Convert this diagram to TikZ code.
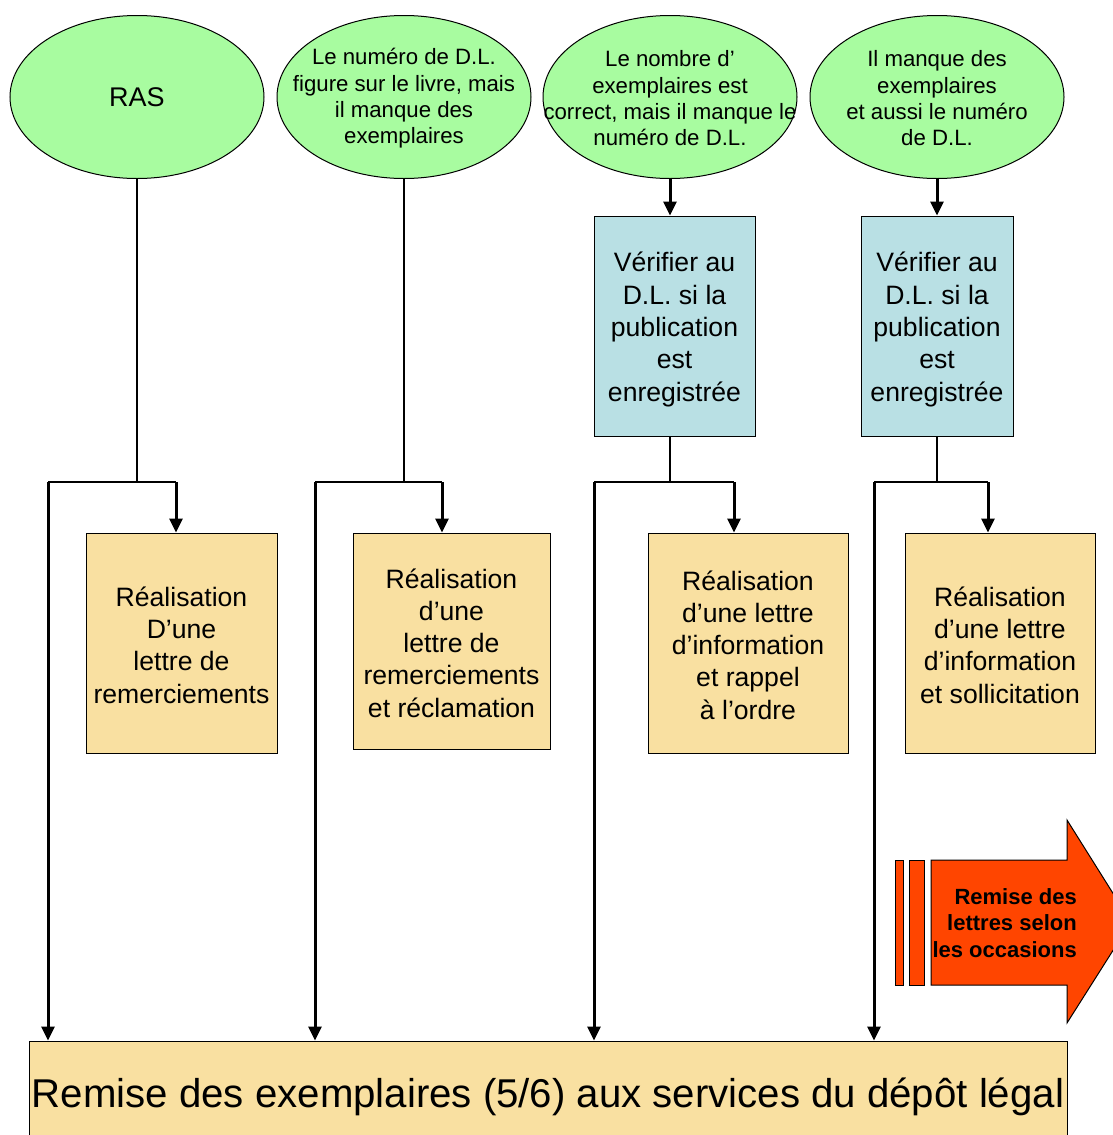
\documentclass[tikz,border=0pt]{standalone}
\usepackage{fontspec}
\setmainfont{Liberation Sans}
\usetikzlibrary{shapes.geometric,arrows.meta}
\definecolor{leafgreen}{RGB}{168,252,160}
\definecolor{paleblue}{RGB}{185,224,228}
\definecolor{sand}{RGB}{249,224,161}
\definecolor{flame}{RGB}{255,69,0}
\tikzset{
  oval/.style={ellipse,draw=black,line width=1pt,fill=leafgreen,minimum width=254pt,minimum height=163pt,inner sep=0pt},
  ovaltext/.style={align=center,inner sep=0pt,font=\fontsize{22.2}{26.3}\selectfont},
  boxtext/.style={align=center,inner sep=0pt,font=\fontsize{26.6}{32.3}\selectfont},
  checkbox/.style={rectangle,draw=black,line width=1pt,fill=paleblue,inner sep=0pt},
  letterbox/.style={rectangle,draw=black,line width=1pt,fill=sand,inner sep=0pt},
  thin/.style={line width=1.3pt},
  link/.style={line width=2pt},
  flow/.style={line width=3pt,-{Triangle[length=14pt,width=13pt]}},
}
\begin{document}
\begin{tikzpicture}[x=1pt,y=-1pt]
\useasboundingbox (0,0) rectangle (1113,1135);
\fill[white] (0,0) rectangle (1113,1135);

% the four cases
\node[oval] (e1) at (137,97) {};
\node[oval] (e2) at (404,97) {};
\node[oval] (e3) at (670,97) {};
\node[oval] (e4) at (937,97) {};
\node[ovaltext,font=\fontsize{27}{30}\selectfont] (t1) at (e1.center) {RAS};
\node[ovaltext] (t2) at ([yshift=-1.5pt]e2.center) {Le numéro de D.L.\\figure sur le livre, mais\\il manque des\\exemplaires};
\node[ovaltext] (t3) at ([yshift=-1.5pt]e3.center) {Le nombre d’\\exemplaires est\\correct, mais il manque le\\numéro de D.L.};
\node[ovaltext] (t4) at ([yshift=-1.5pt]e4.center) {Il manque des\\exemplaires\\et aussi le numéro\\de D.L.};

% checks with the D.L.
\node[checkbox,minimum width=161pt,minimum height=220pt] (v3) at (674.5,326) {};
\node[checkbox,minimum width=152pt,minimum height=220pt] (v4) at (937,326) {};
\node[boxtext] (vt3) at ([yshift=-3.5pt]v3.center) {Vérifier au\\D.L. si la\\publication\\est\\enregistrée};
\node[boxtext] (vt4) at ([yshift=-3.5pt]v4.center) {Vérifier au\\D.L. si la\\publication\\est\\enregistrée};

% letters
\node[letterbox,minimum width=191pt,minimum height=220pt] (l1) at (181.5,643) {};
\node[letterbox,minimum width=197pt,minimum height=216pt] (l2) at (451.5,641) {};
\node[letterbox,minimum width=200pt,minimum height=220pt] (l3) at (748,643) {};
\node[letterbox,minimum width=190pt,minimum height=220pt] (l4) at (1000,643) {};
\node[boxtext] (lt1) at ([yshift=-2pt]l1.center) {Réalisation\\D’une\\lettre de\\remerciements};
\node[boxtext] (lt2) at ([yshift=-2pt]l2.center) {Réalisation\\d’une\\lettre de\\remerciements\\et réclamation};
\node[boxtext] (lt3) at ([yshift=-2pt]l3.center) {Réalisation\\d’une lettre\\d’information\\et rappel\\à l’ordre};
\node[boxtext] (lt4) at ([yshift=-2pt]l4.center) {Réalisation\\d’une lettre\\d’information\\et sollicitation};

% final step
\node[letterbox,minimum width=1038pt,minimum height=104pt] (final) at (548,1093) {};
\node[inner sep=0pt,font=\fontsize{40.2}{48}\selectfont] (ft) at ([yshift=-3.5pt]final.center) {Remise des exemplaires (5/6) aux services du dépôt légal};

% junction points
\coordinate (j1) at (137,482);
\coordinate (j2) at (404,482);
\coordinate (j3) at (670,482);
\coordinate (j4) at (937,482);
\coordinate (a1) at (48,482);   \coordinate (b1) at (176,482);
\coordinate (a2) at (315,482);  \coordinate (b2) at (442,482);
\coordinate (a3) at (594,482);  \coordinate (b3) at (734,482);
\coordinate (a4) at (874,482);  \coordinate (b4) at (988,482);

% from cases to junctions
\draw[thin] (e1.south) -- (j1);
\draw[thin] (e2.south) -- (j2);
\draw[flow] (e3.south) -- (v3.north -| e3.south);
\draw[flow] (e4.south) -- (v4.north);
\draw[thin] (v3.south -| j3) -- (j3);
\draw[thin] (v4.south) -- (j4);

% splits
\foreach \i in {1,2,3,4}{
  \draw[link] (a\i) -- (b\i);
  \draw[flow] (b\i) -- (b\i |- l\i.north);
  \draw[flow] (a\i) -- (a\i |- final.north);
}

% delivery arrow
\filldraw[fill=flame,draw=black,line width=1pt] (895,860) rectangle (903,985);
\filldraw[fill=flame,draw=black,line width=1pt] (909,860) rectangle (924,985);
\filldraw[fill=flame,draw=black,line width=1pt] (931,860) -- (1067,860) -- (1067,820) -- (1131,922) -- (1067,1023) -- (1067,985) -- (931,985) -- cycle;
\node[align=right,anchor=east,inner sep=0pt,font=\fontsize{22}{26.5}\selectfont\bfseries] (delivery) at (1077,923) {Remise des\\lettres selon\\les occasions};
\end{tikzpicture}
\end{document}
